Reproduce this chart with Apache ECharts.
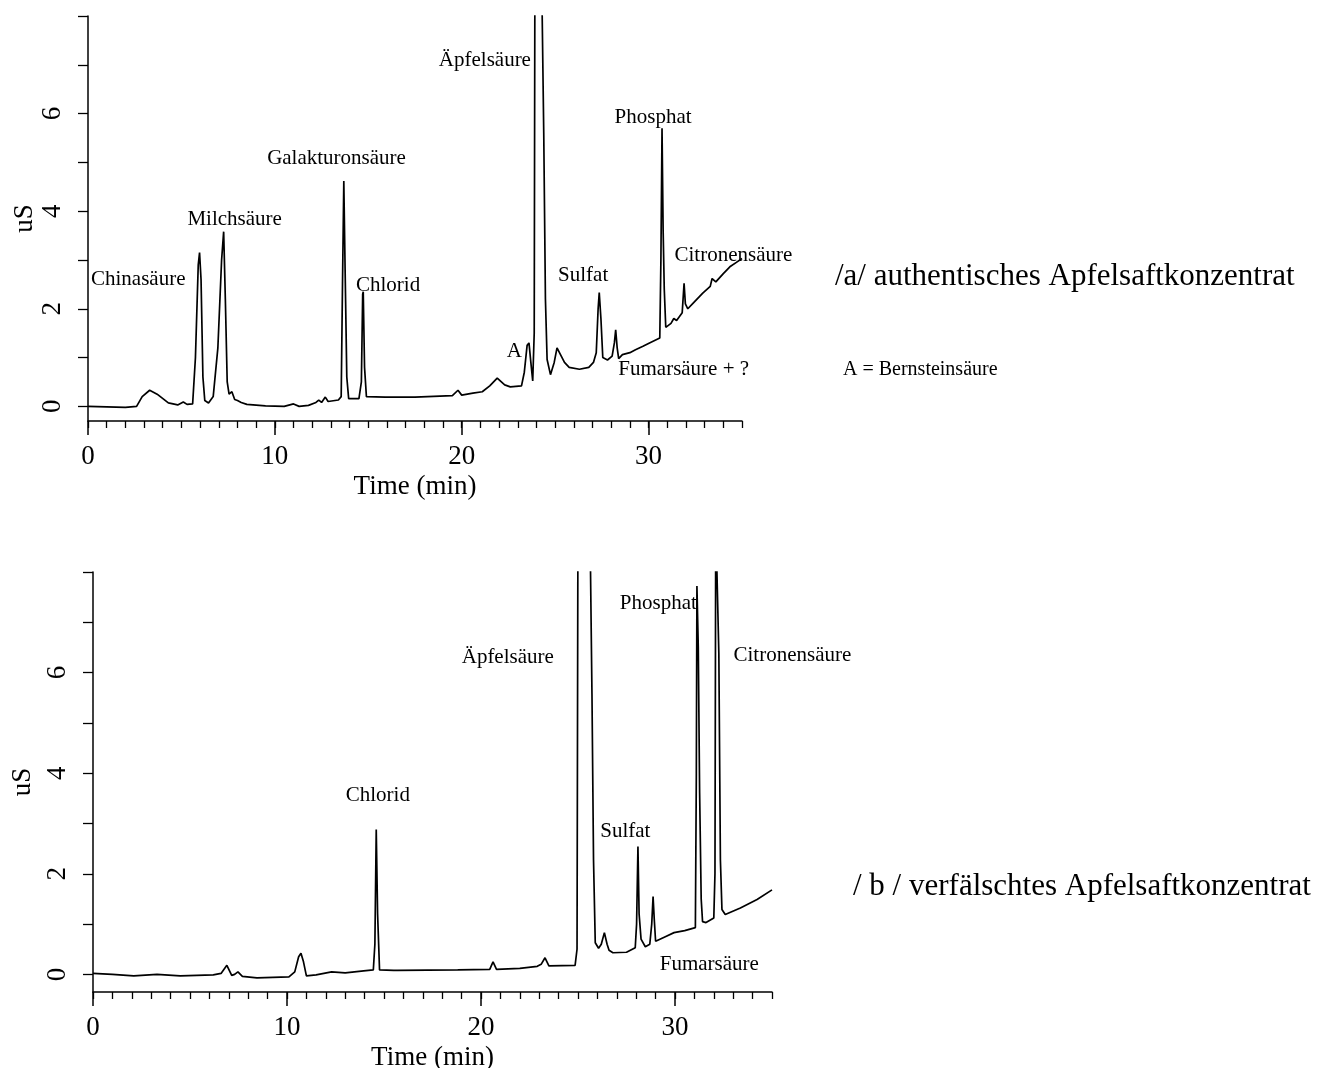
<!DOCTYPE html>
<html>
<head>
<meta charset="utf-8">
<script src="https://cdn.jsdelivr.net/npm/echarts@6/dist/echarts.min.js"></script>
<style>
  html, body { margin: 0; padding: 0; background: #fff; }
  #chart { width: 1340px; height: 1068px; }
</style>
</head>
<body>
<div id="chart"></div>
<script>
// /a/ authentisches Apfelsaftkonzentrat  (time in min, conductivity in uS)
const timeA = [0, 1.0, 2.0, 2.6, 2.9, 3.3, 3.7, 4.3, 4.8, 5.1, 5.3, 5.6, 5.75, 5.9, 5.97, 6.05, 6.15, 6.25, 6.45,
  6.7, 6.95, 7.15, 7.26, 7.35, 7.45, 7.55, 7.7, 7.85, 8.0, 8.2, 8.5, 9.5, 10.5, 11.0, 11.3, 11.8, 12.2, 12.35,
  12.5, 12.7, 12.85, 13.4, 13.55, 13.62, 13.69, 13.76, 13.85, 13.95, 14.5, 14.63, 14.7, 14.73, 14.8, 14.9,
  15.9, 17.5, 19.5, 19.8, 20.0, 20.6, 21.1, 21.5, 21.9, 22.3, 22.6, 23.2, 23.35, 23.5, 23.6, 23.7, 23.8,
  23.88, 23.92, 24.25, 24.3, 24.39, 24.48, 24.57, 24.75, 24.95, 25.1, 25.3, 25.5, 25.75, 26.3, 26.8, 27.05,
  27.2, 27.3, 27.36, 27.45, 27.55, 27.8, 28.05, 28.17, 28.24, 28.32, 28.4, 28.6, 29.0, 29.3, 29.7, 30.05,
  30.6, 30.66, 30.72, 30.78, 30.84, 30.92, 31.0, 31.2, 31.35, 31.5, 31.8, 31.9, 31.97, 32.1, 32.4, 32.9,
  33.3, 33.4, 33.6, 34.0, 34.35, 34.7, 35.0];
const signalA = [0, -0.01, -0.02, 0, 0.2, 0.33, 0.25, 0.07, 0.03, 0.09, 0.04, 0.05, 1.0, 2.9, 3.15, 2.6, 0.6, 0.12, 0.07,
  0.2, 1.2, 3.0, 3.58, 2.2, 0.5, 0.25, 0.3, 0.14, 0.12, 0.08, 0.04, 0.01, 0, 0.05, 0, 0.02, 0.08, 0.13,
  0.08, 0.19, 0.1, 0.13, 0.2, 2.5, 4.62, 2.8, 0.6, 0.16, 0.16, 0.5, 2.3, 2.35, 0.8, 0.2,
  0.19, 0.19, 0.22, 0.33, 0.23, 0.27, 0.3, 0.42, 0.58, 0.44, 0.4, 0.42, 0.7, 1.25, 1.3, 0.9, 0.52,
  1.5, 9.5, 9.5, 8.2, 5.6, 2.2, 0.96, 0.65, 0.9, 1.2, 1.05, 0.9, 0.8, 0.76, 0.8, 0.9,
  1.1, 2.0, 2.33, 1.8, 1.0, 0.95, 1.03, 1.3, 1.57, 1.2, 0.98, 1.06, 1.1, 1.16, 1.23, 1.3,
  1.4, 3.0, 5.7, 3.6, 2.4, 1.62, 1.58, 1.7, 1.8, 1.76, 1.92, 2.52, 2.1, 2.0, 2.12, 2.32,
  2.46, 2.62, 2.55, 2.72, 2.86, 2.95, 3.03];

// / b / verfälschtes Apfelsaftkonzentrat
const timeB = [0, 1.0, 2.1, 3.3, 4.5, 6.2, 6.6, 6.9, 7.15, 7.3, 7.47, 7.7, 8.45, 10.1, 10.4, 10.6, 10.72, 10.85,
  11.0, 11.5, 11.9, 12.3, 13.0, 13.95, 14.45, 14.53, 14.6, 14.67, 14.77, 15.5, 15.6, 15.7, 18.8, 20.45,
  20.62, 20.8, 22.0, 22.9, 23.1, 23.3, 23.5, 24.85, 24.95, 25.0, 25.6, 25.72, 25.8, 25.89, 26.06, 26.2,
  26.36, 26.5, 26.6, 26.8, 27.5, 27.95, 28.02, 28.09, 28.15, 28.25, 28.47, 28.7, 28.8, 28.87, 28.93,
  29.0, 29.5, 29.95, 30.5, 31.05, 31.1, 31.13, 31.2, 31.27, 31.35, 31.42, 31.6, 32.0, 32.06, 32.1, 32.18,
  32.26, 32.34, 32.42, 32.59, 33.37, 34.23, 35.0];
const signalB = [0.02, 0, -0.03, 0, -0.03, -0.01, 0.02, 0.18, -0.02, 0, 0.05, -0.04, -0.07, -0.05, 0.05, 0.35, 0.42, 0.25,
  -0.03, -0.01, 0.02, 0.05, 0.03, 0.07, 0.09, 0.6, 2.88, 1.2, 0.09, 0.08, 0.11, 0.08, 0.09, 0.1,
  0.25, 0.1, 0.12, 0.16, 0.2, 0.33, 0.17, 0.18, 0.5, 9.5, 9.5, 5.58, 2.28, 0.63, 0.52, 0.6,
  0.83, 0.6, 0.48, 0.43, 0.44, 0.53, 1.0, 2.54, 1.2, 0.7, 0.55, 0.6, 1.0, 1.55, 1.1,
  0.66, 0.75, 0.83, 0.87, 0.93, 4.0, 7.72, 6.5, 3.6, 1.5, 1.05, 1.03, 1.12, 2.0, 9.0, 9.0,
  6.38, 2.28, 1.29, 1.19, 1.32, 1.49, 1.68];

// peak annotations: [time, uS, text]
const peakLabelsA = [
  [2.69, 2.61, 'Chinasäure'],
  [7.85, 3.82, 'Milchsäure'],
  [13.3, 5.08, 'Galakturonsäure'],
  [16.06, 2.47, 'Chlorid'],
  [22.82, 1.12, 'A'],
  [21.24, 7.08, 'Äpfelsäure'],
  [26.5, 2.69, 'Sulfat'],
  [30.24, 5.92, 'Phosphat'],
  [34.54, 3.1, 'Citronensäure'],
  [31.88, 0.76, 'Fumarsäure + ?']
];
const peakLabelsB = [
  [14.68, 3.56, 'Chlorid'],
  [21.38, 6.3, 'Äpfelsäure'],
  [29.14, 7.37, 'Phosphat'],
  [36.05, 6.34, 'Citronensäure'],
  [27.44, 2.85, 'Sulfat'],
  [31.77, 0.2, 'Fumarsäure']
];

const yTicks = [0, 1, 2, 3, 4, 5, 6, 7, 8];
const yTickLabels = [0, 2, 4, 6];
const xTickLabels = [0, 10, 20, 30];

const serif = "'Liberation Serif', 'DejaVu Serif', serif";
const ink = '#000';

let myChart = echarts.init(document.getElementById('chart'));

function zip(t, v) {
  return t.map((x, i) => [x, v[i]]);
}

function makeXAxes(grid) {
  return [
    {
      gridIndex: grid, type: 'value', min: 0, max: 35, interval: 1,
      name: 'Time (min)', nameLocation: 'middle', nameGap: 52,
      nameTextStyle: { fontFamily: serif, fontSize: 27, color: ink },
      axisLine: { onZero: false, lineStyle: { color: ink, width: 1.5 } },
      axisTick: { length: 7, lineStyle: { color: ink, width: 1.3 } },
      axisLabel: { customValues: xTickLabels, margin: 22, fontFamily: serif, fontSize: 27, color: ink },
      splitLine: { show: false }
    },
    {
      // longer ticks every 10 min
      gridIndex: grid, type: 'value', min: 0, max: 35, position: 'bottom',
      axisLine: { show: false, onZero: false },
      axisTick: { length: 14, customValues: xTickLabels, lineStyle: { color: ink, width: 1.5 } },
      axisLabel: { show: false },
      splitLine: { show: false }
    }
  ];
}

function makeYAxis(grid, min) {
  return {
    gridIndex: grid, type: 'value', min: min, max: 8,
    name: 'uS', nameLocation: 'middle', nameRotate: 90, nameGap: 50,
    nameTextStyle: { fontFamily: serif, fontSize: 27, color: ink },
    axisLine: { show: true, lineStyle: { color: ink, width: 1.5 } },
    axisTick: { show: true, length: 10, customValues: yTicks, lineStyle: { color: ink, width: 1.3 } },
    axisLabel: { rotate: 90, margin: 22, customValues: yTickLabels, fontFamily: serif, fontSize: 27, color: ink },
    splitLine: { show: false }
  };
}

function traceSeries(axis, data) {
  return {
    type: 'line', xAxisIndex: axis * 2, yAxisIndex: axis, data: data,
    showSymbol: false, silent: true, animation: false,
    lineStyle: { color: ink, width: 1.7 }
  };
}

function labelSeries(axis, labels) {
  return {
    type: 'scatter', xAxisIndex: axis * 2, yAxisIndex: axis, data: labels,
    symbolSize: 0, clip: false, silent: true, animation: false,
    itemStyle: { color: ink, opacity: 1 },
    label: {
      show: true, position: 'inside', formatter: p => p.data[2],
      fontFamily: serif, fontSize: 21, color: ink, opacity: 1,
      textBorderWidth: 0, textBorderColor: 'transparent'
    }
  };
}

let option = {
  backgroundColor: '#fff',
  animation: false,
  grid: [
    { left: 88, top: 16, width: 654, height: 405, outerBoundsMode: 'none' },
    { left: 93, top: 572, width: 679, height: 420, outerBoundsMode: 'none' }
  ],
  xAxis: makeXAxes(0).concat(makeXAxes(1)),
  yAxis: [makeYAxis(0, -0.3), makeYAxis(1, -0.35)],
  series: [
    traceSeries(0, zip(timeA, signalA)),
    traceSeries(1, zip(timeB, signalB)),
    labelSeries(0, peakLabelsA),
    labelSeries(1, peakLabelsB)
  ],
  graphic: [
    { type: 'text', x: 835, y: 277, style: { text: '/a/ authentisches Apfelsaftkonzentrat', fontFamily: serif, fontSize: 31, fill: ink, verticalAlign: 'middle' } },
    { type: 'text', x: 843, y: 370, style: { text: 'A = Bernsteinsäure', fontFamily: serif, fontSize: 20, fill: ink, verticalAlign: 'middle' } },
    { type: 'text', x: 853, y: 887, style: { text: '/ b / verfälschtes Apfelsaftkonzentrat', fontFamily: serif, fontSize: 31, fill: ink, verticalAlign: 'middle' } }
  ]
};

myChart.setOption(option);
</script>
</body>
</html>
